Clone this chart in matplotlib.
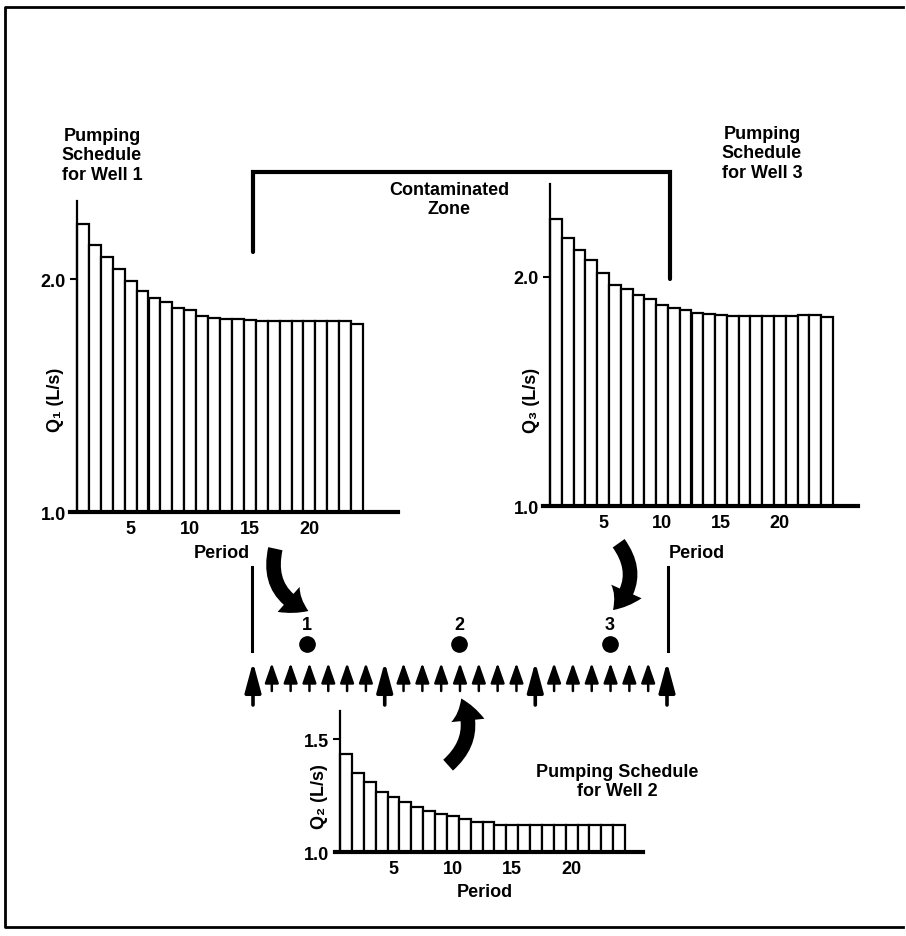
import numpy as np
import matplotlib
matplotlib.use('Agg')
import matplotlib.pyplot as plt
from matplotlib.patches import FancyArrowPatch

plt.rcParams['font.family'] = ['Liberation Sans', 'DejaVu Sans']
plt.rcParams['font.weight'] = 'bold'

# pumping rates (L/s), one value per period
periods = np.arange(1, 25)
q1 = [2.236, 2.146, 2.093, 2.043, 1.993, 1.950, 1.917, 1.903, 1.874, 1.868, 1.843, 1.831,
      1.828, 1.828, 1.824, 1.818, 1.818, 1.818, 1.818, 1.818, 1.818, 1.818, 1.818, 1.807]
q2 = [1.434, 1.348, 1.311, 1.264, 1.242, 1.220, 1.198, 1.183, 1.168, 1.158, 1.146, 1.134,
      1.134, 1.121, 1.121, 1.121, 1.121, 1.121, 1.121, 1.121, 1.121, 1.121, 1.121, 1.121]
q3 = [2.251, 2.170, 2.116, 2.072, 2.019, 1.966, 1.946, 1.923, 1.905, 1.879, 1.865, 1.854,
      1.843, 1.840, 1.835, 1.830, 1.830, 1.830, 1.830, 1.830, 1.830, 1.835, 1.835, 1.825]
xticks = [5, 10, 15, 20]
well_names = ['1', '2', '3']

W, H = 906, 937
FS = 13

fig = plt.figure(figsize=(W / 100, H / 100), dpi=100)

# overlay in pixel coords for the diagram parts
ov = fig.add_axes([0, 0, 1, 1])
ov.set_xlim(0, W)
ov.set_ylim(H, 0)
ov.axis('off')


def rect(l, t, r, b):
    return [l / W, 1 - b / H, (r - l) / W, (b - t) / H]


def schedule(q, base_x, axis_x, bars_r, right, top, bottom, ytop, yticks):
    ax = fig.add_axes(rect(base_x, top, right, bottom))
    ax.patch.set_alpha(0)
    unit = (bars_r - axis_x) / len(q)
    ax.set_xlim(0.5 - (axis_x - base_x) / unit, 0.5 + (right - axis_x) / unit)
    ax.set_ylim(1.0, ytop)
    ax.bar(periods, np.array(q) - 1.0, bottom=1.0, width=1.0, color='white',
           edgecolor='black', linewidth=1.6)
    ax.spines['left'].set_position(('data', 0.5))
    ax.spines['left'].set_linewidth(1.6)
    ax.spines['bottom'].set_linewidth(3)
    ax.spines['top'].set_visible(False)
    ax.spines['right'].set_visible(False)
    ax.set_yticks(yticks)
    ax.set_yticklabels(['%.1f' % v for v in yticks])
    ax.set_xticks(xticks)
    ax.tick_params(axis='y', length=5, width=1.5, pad=3, labelsize=FS)
    ax.tick_params(axis='x', length=0, pad=6, labelsize=FS)
    return ax


schedule(q1, 70, 77, 363, 398, 202, 513, 2.335, [1.0, 2.0])
schedule(q3, 543, 550, 833, 858, 185, 507, 2.406, [1.0, 2.0])
schedule(q2, 335, 340, 625, 643, 712, 853, 1.624, [1.0, 1.5])

# axis labels
ov.text(55, 400, 'Q\u2081 (L/s)', rotation=90, ha='center', va='center', fontsize=FS)
ov.text(532, 400, 'Q\u2083 (L/s)', rotation=90, ha='center', va='center', fontsize=FS)
ov.text(320, 797, 'Q\u2082 (L/s)', rotation=90, ha='center', va='center', fontsize=FS)
ov.text(222, 554, 'Period', ha='center', va='center', fontsize=FS)
ov.text(697, 554, 'Period', ha='center', va='center', fontsize=FS)
ov.text(485, 893, 'Period', ha='center', va='center', fontsize=FS)

# titles
ov.text(102, 156, 'Pumping\nSchedule\nfor Well 1', ha='center', va='center',
        fontsize=FS, linespacing=1.2)
ov.text(762, 154, 'Pumping\nSchedule\nfor Well 3', ha='center', va='center',
        fontsize=FS, linespacing=1.2)
ov.text(617, 782, 'Pumping Schedule\nfor Well 2', ha='center', va='center',
        fontsize=FS, linespacing=1.2)

# contaminated zone bracket
ov.plot([253, 253, 670, 670], [253, 173, 173, 280], color='black', lw=3,
        solid_capstyle='round', solid_joinstyle='miter')
ov.text(449, 200, 'Contaminated\nZone', ha='center', va='center', fontsize=FS,
        linespacing=1.2)
ov.plot([252, 252], [568, 652], color='black', lw=2.2)
ov.plot([668, 668], [568, 652], color='black', lw=2.2)

# wells
well_x = [307, 459, 610]
for wx, name in zip(well_x, well_names):
    ov.plot(wx, 645, 'o', color='black', markersize=11)
    ov.text(wx, 626, name, ha='center', va='center', fontsize=FS)

# groundwater flow arrows
arrow_x = np.linspace(253, 667, 23)
for i, ax_ in enumerate(arrow_x):
    if i in (0, 7, 15, 22):
        ov.annotate('', xy=(ax_, 663), xytext=(ax_, 706),
                    arrowprops=dict(arrowstyle='-|>,head_length=1.3,head_width=0.35',
                                    lw=2.6, color='black', mutation_scale=14,
                                    shrinkA=0, shrinkB=0))
    else:
        ov.annotate('', xy=(ax_, 664), xytext=(ax_, 692),
                    arrowprops=dict(arrowstyle='-|>,head_length=1.0,head_width=0.35',
                                    lw=1.8, color='black', mutation_scale=12,
                                    shrinkA=0, shrinkB=0))

# curved arrows linking schedules to wells
style = 'simple,head_length=1.1,head_width=1.6,tail_width=0.7'
for a, b, rad in [((276, 547), (311, 613), 0.45),
                  ((617, 542), (611, 613), -0.45),
                  ((446, 768), (460, 697), 0.4)]:
    ov.add_patch(FancyArrowPatch(a, b, connectionstyle='arc3,rad=%s' % rad,
                                 arrowstyle=style, mutation_scale=15,
                                 color='black', lw=0))

# frame
ov.plot([903, 5, 5, 903], [8, 8, 928, 928], color='black', lw=2)

fig.savefig('out.png', dpi=100)
